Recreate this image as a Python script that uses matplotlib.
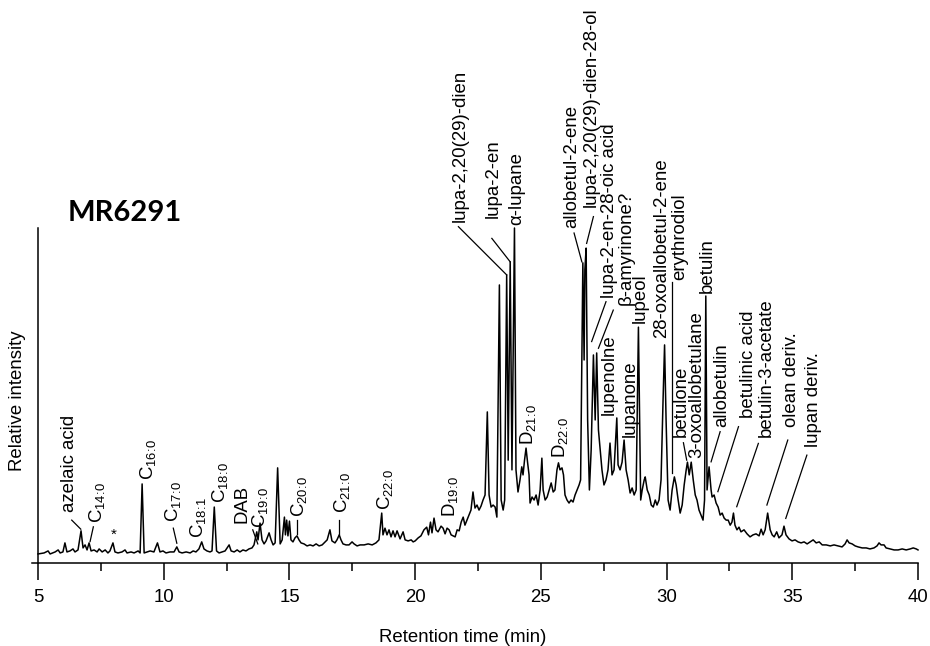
import matplotlib
matplotlib.use("Agg")
import matplotlib.pyplot as plt
from matplotlib.ticker import MultipleLocator

plt.rcParams["font.family"] = ["Liberation Sans", "DejaVu Sans"]
plt.rcParams["mathtext.fontset"] = "custom"
plt.rcParams["mathtext.rm"] = "Liberation Sans"
plt.rcParams["mathtext.it"] = "Liberation Sans:italic"
plt.rcParams["mathtext.bf"] = "Liberation Sans:bold"

# chromatogram trace (time in min, intensity in % of max)
time = [
    5.00, 5.24, 5.40, 5.48, 5.68, 5.80, 5.88, 5.99, 6.07, 6.15, 6.27, 6.39, 6.47, 6.59, 6.71, 6.79,
    6.87, 6.95, 7.03, 7.11, 7.23, 7.35, 7.43, 7.55, 7.67, 7.78, 7.86, 7.98, 8.06, 8.18, 8.34, 8.46,
    8.54, 8.70, 8.82, 8.98, 9.06, 9.14, 9.22, 9.34, 9.46, 9.61, 9.75, 9.85, 9.97, 10.09, 10.25, 10.41,
    10.52, 10.61, 10.73, 10.89, 11.05, 11.17, 11.28, 11.40, 11.51, 11.60, 11.72, 11.84, 11.92, 12.01,
    12.10, 12.20, 12.32, 12.44, 12.60, 12.68, 12.80, 12.92, 13.03, 13.15, 13.27, 13.39, 13.51, 13.59,
    13.70, 13.75, 13.83, 13.91, 13.99, 14.07, 14.19, 14.27, 14.35, 14.43, 14.53, 14.63, 14.71, 14.80,
    14.84, 14.89, 14.94, 15.00, 15.06, 15.14, 15.22, 15.30, 15.38, 15.46, 15.58, 15.70, 15.82, 15.94,
    16.06, 16.18, 16.30, 16.42, 16.50, 16.61, 16.69, 16.81, 16.89, 16.98, 17.05, 17.13, 17.25, 17.37,
    17.49, 17.57, 17.69, 17.81, 17.97, 18.13, 18.29, 18.44, 18.56, 18.67, 18.72, 18.80, 18.88, 18.96,
    19.04, 19.12, 19.20, 19.28, 19.40, 19.52, 19.60, 19.72, 19.84, 19.92, 20.00, 20.12, 20.23, 20.35,
    20.46, 20.53, 20.61, 20.67, 20.75, 20.83, 20.91, 21.03, 21.11, 21.19, 21.27, 21.35, 21.43, 21.51,
    21.59, 21.67, 21.75, 21.83, 21.91, 21.98, 22.06, 22.14, 22.22, 22.30, 22.38, 22.46, 22.54, 22.62,
    22.70, 22.78, 22.87, 22.94, 23.02, 23.10, 23.18, 23.25, 23.35, 23.42, 23.50, 23.56, 23.64, 23.70,
    23.78, 23.85, 23.95, 24.01, 24.09, 24.17, 24.24, 24.29, 24.35, 24.41, 24.47, 24.53, 24.57, 24.65,
    24.73, 24.81, 24.89, 24.97, 25.04, 25.09, 25.17, 25.25, 25.33, 25.41, 25.49, 25.56, 25.64, 25.70,
    25.76, 25.84, 25.90, 25.96, 26.04, 26.12, 26.20, 26.28, 26.36, 26.44, 26.52, 26.58, 26.67, 26.72,
    26.75, 26.80, 26.86, 26.93, 27.00, 27.09, 27.16, 27.22, 27.29, 27.35, 27.43, 27.51, 27.59, 27.67,
    27.75, 27.83, 27.91, 28.02, 28.07, 28.15, 28.23, 28.31, 28.39, 28.47, 28.55, 28.63, 28.71, 28.79,
    28.88, 28.97, 29.03, 29.11, 29.15, 29.23, 29.31, 29.39, 29.47, 29.55, 29.62, 29.70, 29.78, 29.86,
    29.92, 29.98, 30.06, 30.14, 30.22, 30.31, 30.38, 30.46, 30.54, 30.62, 30.70, 30.78, 30.83, 30.90,
    30.98, 31.06, 31.14, 31.21, 31.29, 31.37, 31.45, 31.51, 31.56, 31.61, 31.69, 31.77, 31.81, 31.89,
    31.97, 32.05, 32.13, 32.21, 32.29, 32.37, 32.45, 32.53, 32.60, 32.66, 32.72, 32.80, 32.88, 32.96,
    33.08, 33.20, 33.32, 33.44, 33.56, 33.68, 33.76, 33.84, 33.92, 34.02, 34.12, 34.20, 34.28, 34.38,
    34.47, 34.59, 34.67, 34.75, 34.87, 34.99, 35.11, 35.23, 35.35, 35.47, 35.59, 35.71, 35.83, 35.95,
    36.07, 36.19, 36.35, 36.51, 36.66, 36.82, 36.98, 37.10, 37.18, 37.26, 37.38, 37.50, 37.62, 37.78,
    37.94, 38.09, 38.25, 38.37, 38.45, 38.53, 38.65, 38.73, 38.89, 39.05, 39.21, 39.37, 39.53, 39.69,
    39.81, 39.93, 40.00,
]
intensity = [
    2.7, 3.0, 3.6, 2.7, 3.3, 3.9, 3.0, 3.3, 6.0, 3.3, 3.6, 4.2, 3.3, 3.9, 9.6, 4.5,
    5.4, 3.9, 6.0, 3.6, 3.9, 3.3, 4.2, 3.3, 3.9, 3.0, 3.6, 6.0, 3.3, 3.0, 3.3, 3.9,
    3.0, 3.3, 3.0, 3.6, 3.0, 23.6, 3.0, 3.3, 3.6, 3.3, 6.0, 3.3, 3.6, 3.0, 3.3, 3.3,
    4.8, 3.3, 3.0, 3.3, 3.0, 3.6, 3.3, 4.2, 6.3, 4.2, 3.6, 3.3, 3.6, 16.7,
    3.6, 3.0, 3.3, 3.6, 5.4, 3.6, 3.3, 3.9, 3.3, 3.9, 3.6, 4.2, 4.5, 5.4,
    9.3, 6.9, 11.9, 6.9, 5.7, 6.6, 9.0, 6.9, 5.4, 6.0, 28.4, 5.7, 6.9, 13.7,
    8.4, 12.8, 8.1, 12.5, 6.9, 6.3, 7.5, 8.1, 6.9, 6.0, 5.7, 5.1, 5.4, 5.1,
    5.7, 5.1, 5.4, 6.3, 6.9, 9.9, 6.6, 6.0, 6.9, 8.4, 6.9, 5.7, 5.4, 5.4,
    6.3, 5.7, 5.1, 5.4, 5.4, 5.7, 5.4, 6.0, 6.9, 14.9, 8.4, 10.4, 8.4, 9.9,
    7.8, 9.6, 7.8, 9.6, 7.2, 9.3, 6.9, 6.6, 6.9, 6.3, 6.6, 7.5, 8.1, 9.9,
    10.7, 8.4, 12.2, 9.0, 13.4, 9.9, 9.3, 11.0, 10.4, 8.7, 10.4, 9.9, 8.4, 8.1,
    7.8, 9.9, 9.6, 12.2, 13.7, 11.3, 12.8, 14.3, 15.8, 21.2, 16.4, 17.3, 15.8, 17.0,
    18.8, 20.3, 45.1, 20.3, 16.7, 17.3, 16.7, 13.7, 83.0, 18.8, 15.8, 18.8, 86.0, 30.7,
    89.9, 27.8, 100.0, 27.8, 21.2, 24.8, 28.7, 26.3, 30.7, 34.3, 30.1, 26.3, 17.9, 19.7,
    18.8, 20.3, 17.3, 21.8, 31.3, 21.8, 18.8, 19.7, 21.8, 23.9, 21.2, 21.8, 27.8, 29.9,
    27.8, 28.4, 26.3, 20.3, 18.8, 17.9, 18.8, 18.2, 20.3, 21.8, 23.3, 24.8, 89.6, 60.6,
    87.5, 94.0, 42.7, 21.8, 33.7, 62.1, 42.7, 62.7, 39.7, 34.6, 27.8, 23.3, 24.8, 27.8,
    35.8, 26.3, 27.8, 43.3, 29.3, 27.8, 30.1, 36.7, 27.8, 24.8, 20.9, 22.4, 20.3, 21.8,
    70.4, 18.8, 21.8, 24.8, 25.7, 21.8, 20.3, 17.3, 16.7, 18.8, 17.3, 18.8, 24.8, 48.7,
    65.1, 42.7, 18.8, 15.8, 21.8, 25.7, 23.3, 18.8, 14.9, 17.3, 23.3, 27.8, 30.1, 26.3,
    30.1, 24.8, 20.3, 18.8, 15.8, 14.3, 12.8, 18.8, 79.7, 21.8, 28.7, 21.8, 19.7, 20.3,
    17.9, 16.7, 14.3, 14.9, 13.4, 12.8, 12.8, 11.3, 12.2, 14.9, 11.3, 9.9, 10.7, 9.3,
    9.9, 8.7, 7.8, 8.4, 8.7, 8.1, 10.1, 8.4, 9.9, 14.9, 9.9, 8.4, 7.8, 9.3,
    7.5, 8.4, 11.0, 8.4, 7.2, 6.6, 6.9, 6.3, 6.0, 6.3, 5.7, 6.3, 6.9, 6.0,
    6.3, 5.4, 5.4, 5.1, 5.4, 5.1, 4.8, 5.7, 6.9, 6.0, 5.7, 5.1, 4.8, 4.5,
    4.5, 4.2, 4.5, 5.1, 6.0, 5.4, 5.4, 4.5, 4.2, 3.9, 3.9, 4.2, 3.9, 4.2,
    4.5, 4.2, 3.9,
]


def sub(base, s):
    # subscript like C16:0; the \! pairs cancel mathtext's spacing around ':'
    return base + r"$_{\mathregular{" + s.replace(":", r"\!:\!") + "}}$"


# peak labels: text, label centre time, label bottom intensity
labels = [
    "azelaic acid", sub("C", "14:0"), sub("C", "16:0"), sub("C", "17:0"),
    sub("C", "18:1"), sub("C", "18:0"), "DAB", sub("C", "19:0"),
    sub("C", "20:0"), sub("C", "21:0"), sub("C", "22:0"),
    sub("D", "19:0"), "lupa-2,20(29)-dien", "lupa-2-en", "α-lupane",
    sub("D", "21:0"), sub("D", "22:0"), "allobetul-2-ene",
    "lupa-2,20(29)-dien-28-ol", "lupa-2-en-28-oic acid", "β-amyrinone?", "lupenolne",
    "lupanone", "lupeol", "28-oxoallobetul-2-ene", "erythrodiol", "betulone",
    "3-oxoallobetulane", "betulin", "allobetulin", "betulinic acid", "betulin-3-acetate",
    "olean deriv.", "lupan deriv.",
]
label_t = [
    6.27, 7.33, 9.39, 10.38, 11.38, 12.24, 13.10, 13.83, 15.39, 17.08, 18.80,
    21.39, 21.79, 23.11, 24.04, 24.50, 25.76, 26.23, 27.02, 27.73, 28.39, 27.70,
    28.55, 28.95, 29.81, 30.51, 30.58, 31.21, 31.60, 32.20, 33.25, 33.96, 34.98, 35.84,
]
label_i = [
    15.2, 11.9, 24.8, 12.3, 7.5, 17.8, 11.9, 10.4, 13.8, 14.9, 15.8,
    13.8, 101.9, 102.9, 100.9, 35.2, 31.3, 99.9, 106.4, 79.0, 77.0, 44.2,
    37.7, 71.6, 67.1, 84.5, 37.7, 31.3, 80.5, 40.7, 43.2, 37.7, 40.7, 34.7,
]

# leader lines: (start time, start intensity, end time, end intensity)
leaders = [
    (6.34, 12.8, 6.70, 10.1), (7.20, 10.8, 7.07, 6.4), (10.38, 10.4, 10.52, 5.9),
    (13.54, 9.9, 13.74, 5.7), (15.29, 12.8, 15.29, 8.7), (16.98, 12.8, 16.98, 8.7),
    (21.72, 100.4, 23.64, 86.0), (23.05, 96.9, 23.78, 89.9), (26.32, 98.5, 26.63, 89.9),
    (27.09, 103.4, 26.82, 95.4), (27.59, 78.0, 27.02, 66.1), (27.88, 75.5, 27.29, 64.1),
    (30.23, 84.0, 30.23, 26.9), (30.67, 35.9, 30.80, 30.7), (32.13, 39.2, 31.77, 30.2),
    (32.86, 40.7, 32.04, 21.3), (33.65, 35.7, 32.79, 16.8), (34.82, 36.7, 33.99, 17.3),
    (35.58, 32.2, 34.74, 13.3),
]

fig = plt.figure(figsize=(9.3, 6.46), dpi=100)
ax = fig.add_axes([32 / 930, 1 - 563 / 646, 886 / 930, 335 / 646])

ax.plot(time, intensity, color="black", lw=1.1, clip_on=False)

for txt, t, i in zip(labels, label_t, label_i):
    ax.text(t, i, txt, rotation=90, ha="center", va="bottom", fontsize=13.4, clip_on=False)
ax.text(8.03, 7.1, "*", ha="center", va="baseline", fontsize=11)

for t0, i0, t1, i1 in leaders:
    ax.plot([t0, t1], [i0, i1], color="black", lw=0.9, clip_on=False)

ax.set_xlim(4.76, 40)
ax.set_ylim(0, 100)
ax.spines["left"].set_position(("data", 5))
ax.spines["top"].set_visible(False)
ax.spines["right"].set_visible(False)
ax.spines["left"].set_linewidth(1.1)
ax.spines["bottom"].set_linewidth(1.1)
ax.set_yticks([])
ax.set_xticks([5, 10, 15, 20, 25, 30, 35, 40])
ax.xaxis.set_minor_locator(MultipleLocator(2.5))
ax.tick_params(axis="x", which="major", length=12, width=1.1, labelsize=13.4, pad=7)
ax.tick_params(axis="x", which="minor", length=6, width=1.1)

fig.text(463 / 930, 1 - 637 / 646, "Retention time (min)", ha="center", va="center", fontsize=13.4)
fig.text(17 / 930, 1 - 401 / 646, "Relative intensity", rotation=90, ha="center", va="center",
         fontsize=13.4)
fig.text(68 / 930, 1 - 213 / 646, "MR6291", ha="left", va="center", fontsize=21,
         fontweight="bold", family="Lato")

fig.savefig("out.png", dpi=100)
